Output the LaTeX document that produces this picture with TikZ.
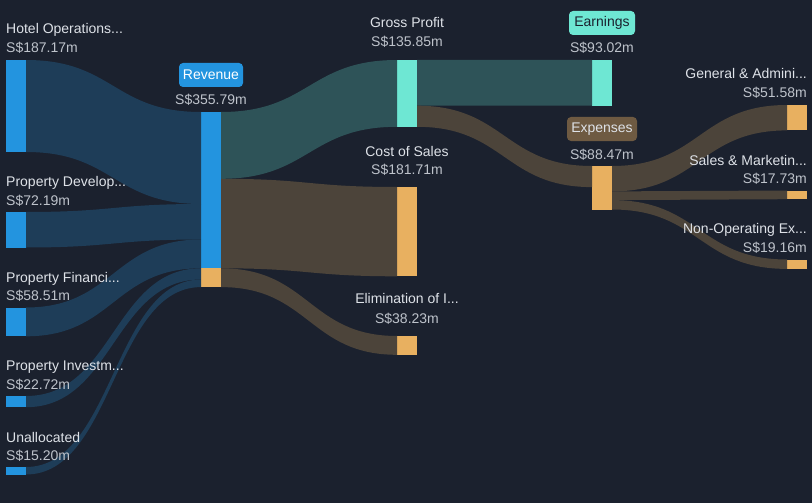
\documentclass[tikz,border=0pt]{standalone}
\usepackage{fontspec}
\setmainfont{Liberation Sans}
\usetikzlibrary{calc}
\definecolor{bg}{RGB}{27,33,46}
\definecolor{nblue}{RGB}{35,148,223}
\definecolor{fblue}{RGB}{30,61,88}
\definecolor{nteal}{RGB}{110,231,211}
\definecolor{fteal}{RGB}{46,83,88}
\definecolor{norange}{RGB}{232,176,96}
\definecolor{fbrown}{RGB}{76,68,58}
\definecolor{bbrown}{RGB}{110,90,66}
\definecolor{lbltext}{RGB}{222,226,232}
\definecolor{valtext}{RGB}{190,195,203}
\tikzset{
  bar/.style={rectangle, inner sep=0pt, outer sep=0pt, minimum width=20pt, anchor=north west},
  lbl/.style={text=lbltext, font=\fontsize{14}{16}\selectfont, inner sep=0pt},
  val/.style={text=valtext, font=\fontsize{14}{16}\selectfont, inner sep=0pt},
  badge/.style={rectangle, rounded corners=4pt, minimum height=24pt, inner sep=0pt, font=\fontsize{14}{16}\selectfont}
}
\newcommand\band[5]{\fill[#5] let \p1=(#1), \p2=(#2), \p3=(#3), \p4=(#4) in
  (\p1) .. controls ({(\x1+\x2)/2},\y1) and ({(\x1+\x2)/2},\y2) .. (\p2) --
  (\p3) .. controls ({(\x3+\x4)/2},\y3) and ({(\x3+\x4)/2},\y4) .. (\p4) -- cycle;}
\begin{document}
\begin{tikzpicture}[x=1pt,y=-1pt]
\fill[bg] (0,0) rectangle (812,503);
\useasboundingbox (0,0) rectangle (812,503);
% nodes (bars)
\node[bar, fill=nblue, minimum height=92pt] (hotel) at (6,60) {};
\node[bar, fill=nblue, minimum height=35.5pt] (dev) at (6,212) {};
\node[bar, fill=nblue, minimum height=28.8pt] (fin) at (6,307.5) {};
\node[bar, fill=nblue, minimum height=11.2pt] (inv) at (6,396) {};
\node[bar, fill=nblue, minimum height=7.5pt] (unal) at (6,467) {};
\node[bar, fill=nblue, minimum height=156.3pt] (rev) at (201,112) {};
\node[bar, fill=norange, minimum height=18.8pt] (revel) at (201,268.3) {};
\node[bar, fill=nteal, minimum height=66.8pt] (gp) at (397,60) {};
\node[bar, fill=norange, minimum height=89.3pt] (cos) at (397,187) {};
\node[bar, fill=norange, minimum height=18.8pt] (elim) at (397,336) {};
\node[bar, fill=nteal, minimum height=45.7pt] (earn) at (592,60) {};
\node[bar, fill=norange, minimum height=43.5pt] (exp) at (592,166) {};
\node[bar, fill=norange, minimum height=25.4pt] (ga) at (787,105) {};
\node[bar, fill=norange, minimum height=8.7pt] (sm) at (787,190.5) {};
\node[bar, fill=norange, minimum height=9.4pt] (nonop) at (787,259.5) {};
% flows into revenue
\band{hotel.north east}{rev.north west}{$(rev.north west)+(0,92)$}{hotel.south east}{fblue}
\band{dev.north east}{$(rev.north west)+(0,92)$}{$(rev.north west)+(0,127.5)$}{dev.south east}{fblue}
\band{fin.north east}{$(rev.north west)+(0,127.5)$}{rev.south west}{fin.south east}{fblue}
\band{inv.north east}{revel.north west}{$(revel.north west)+(0,11.2)$}{inv.south east}{fblue}
\band{unal.north east}{$(revel.north west)+(0,11.2)$}{revel.south west}{unal.south east}{fblue}
% flows out of revenue
\band{rev.north east}{gp.north west}{gp.south west}{$(rev.north east)+(0,66.8)$}{fteal}
\band{$(rev.north east)+(0,66.8)$}{cos.north west}{cos.south west}{rev.south east}{fbrown}
\band{revel.north east}{elim.north west}{elim.south west}{revel.south east}{fbrown}
% gross profit
\band{gp.north east}{earn.north west}{earn.south west}{$(gp.north east)+(0,45.7)$}{fteal}
\band{$(gp.north east)+(0,45.7)$}{exp.north west}{$(exp.north west)+(0,21.1)$}{gp.south east}{fbrown}
% expenses
\band{exp.north east}{ga.north west}{ga.south west}{$(exp.north east)+(0,25.4)$}{fbrown}
\band{$(exp.north east)+(0,25.4)$}{sm.north west}{sm.south west}{$(exp.north east)+(0,34.1)$}{fbrown}
\band{$(exp.north east)+(0,34.1)$}{nonop.north west}{nonop.south west}{exp.south east}{fbrown}
% left labels
\node[lbl, anchor=base west] (hotelL) at (6,34) {Hotel Operations...};
\node[val, anchor=base west] (hotelV) at (6,53) {S\$187.17m};
\node[lbl, anchor=base west] (devL) at (6,186) {Property Develop...};
\node[val, anchor=base west] (devV) at (6,205) {S\$72.19m};
\node[lbl, anchor=base west] (finL) at (6,282) {Property Financi...};
\node[val, anchor=base west] (finV) at (6,300.5) {S\$58.51m};
\node[lbl, anchor=base west] (invL) at (6,370) {Property Investm...};
\node[val, anchor=base west] (invV) at (6,389) {S\$22.72m};
\node[lbl, anchor=base west] (unalL) at (6,442) {Unallocated};
\node[val, anchor=base west] (unalV) at (6,460.5) {S\$15.20m};
% revenue
\node[badge, fill=nblue, text=white, minimum width=64pt] (revB) at (211,75) {Revenue};
\node[val, anchor=base] (revV) at (211,105) {S\$355.79m};
% middle
\node[lbl, anchor=base] (gpL) at (407,28) {Gross Profit};
\node[val, anchor=base] (gpV) at (407,47) {S\$135.85m};
\node[lbl, anchor=base] (cosL) at (407,156) {Cost of Sales};
\node[val, anchor=base] (cosV) at (407,174) {S\$181.71m};
\node[lbl, anchor=base] (elimL) at (407,303) {Elimination of I...};
\node[val, anchor=base] (elimV) at (407,323) {S\$38.23m};
% earnings / expenses
\node[badge, fill=nteal, text=bg, minimum width=66pt] (earnB) at (602,23) {Earnings};
\node[val, anchor=base] (earnV) at (602,53) {S\$93.02m};
\node[badge, fill=bbrown, text=lbltext, minimum width=70pt] (expB) at (602,129) {Expenses};
\node[val, anchor=base] (expV) at (602,159) {S\$88.47m};
% right
\node[lbl, anchor=base east] (gaL) at (807,79) {General \& Admini...};
\node[val, anchor=base east] (gaV) at (807,98) {S\$51.58m};
\node[lbl, anchor=base east] (smL) at (807,165) {Sales \& Marketin...};
\node[val, anchor=base east] (smV) at (807,183.5) {S\$17.73m};
\node[lbl, anchor=base east] (nonopL) at (807,233) {Non-Operating Ex...};
\node[val, anchor=base east] (nonopV) at (807,252) {S\$19.16m};
\end{tikzpicture}
\end{document}
